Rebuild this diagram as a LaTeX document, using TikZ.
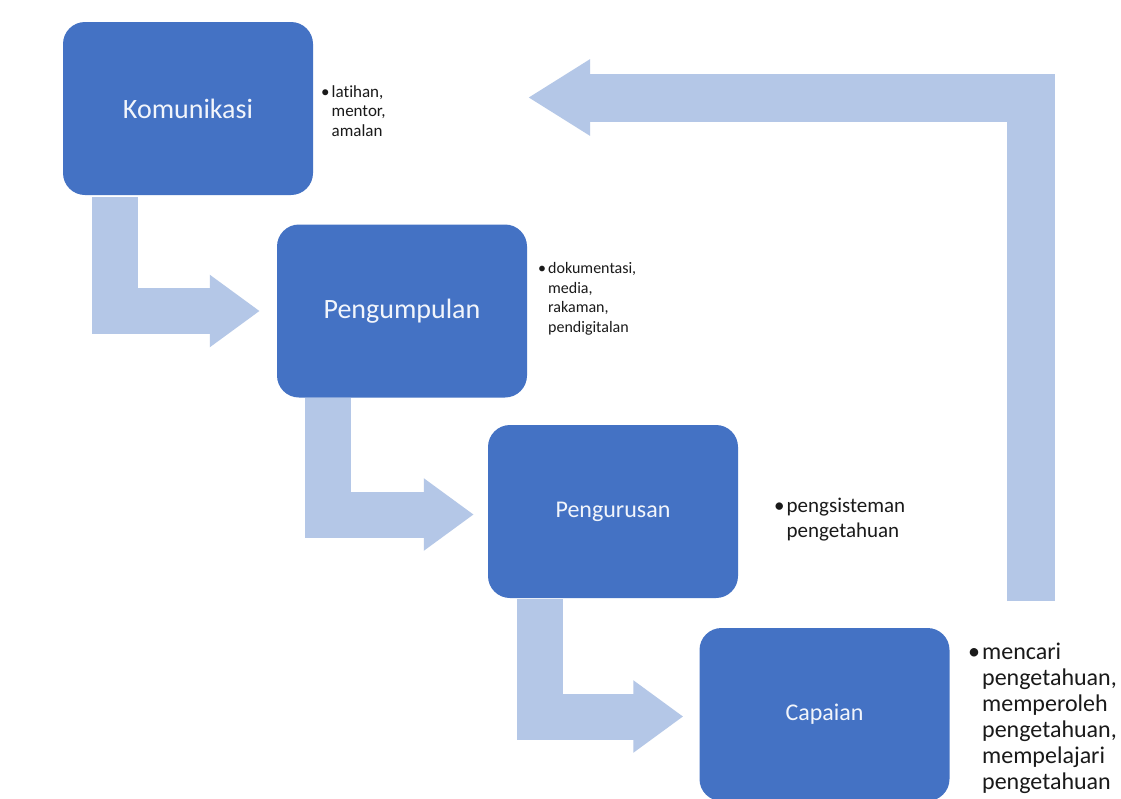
\documentclass[tikz,border=0pt]{standalone}
\usepackage{fontspec}
\setmainfont{Carlito}[Ligatures=NoCommon]
\usetikzlibrary{arrows.meta}
\definecolor{boxblue}{HTML}{4472C4}
\definecolor{arrowblue}{HTML}{B4C7E7}
\definecolor{labelwhite}{HTML}{F2F5FB}
\definecolor{bullettext}{HTML}{1A1A1A}
\tikzset{
  stage/.style={draw=none, fill=boxblue, rounded corners=22pt, minimum width=250pt,
    minimum height=173pt, inner sep=0pt, text=labelwhite},
  bendarrow/.style={draw=arrowblue, line width=#1, line join=miter, line cap=butt},
  headA/.style={-{Triangle[length=50pt,width=69pt]}},
  headB/.style={-{Triangle[length=62pt,width=72pt]}},
  notes/.style={anchor=north west, inner sep=0pt, align=left, text=bullettext},
}
\newcommand{\bul}{\textbullet\hspace{2pt}}
\newcommand{\ind}{\hphantom{\textbullet\hspace{2pt}}}
\begin{document}
\begin{tikzpicture}[x=1pt, y=-1pt]
\clip (0,0) rectangle (1121,798);
\fill[white] (0,0) rectangle (1121,798);

% stages
\node[stage, font=\fontsize{28}{30}\selectfont] (kom) at (188,108.5) {Komunikasi};
\node[stage, font=\fontsize{28}{30}\selectfont] (peng) at (402,311) {Pengumpulan};
\node[stage, font=\fontsize{24}{26}\selectfont] (urus) at (613,511.5) {Pengurusan};
\node[stage, font=\fontsize{24}{26}\selectfont] (cap) at (824.5,714.5) {Capaian};

% bent arrows
\coordinate (a1) at (115,197);
\coordinate (a2) at (328,398);
\coordinate (a3) at (540,599);
\coordinate (a4) at (1031,601);
\draw[bendarrow=46pt, headA] (a1) |- ([xshift=-17pt]peng.west);
\draw[bendarrow=46pt, headA] (a2) |- ([xshift=-14pt,yshift=-3pt]urus.west);
\draw[bendarrow=46pt, headA] (a3) |- ([xshift=-16pt,yshift=-2pt]cap.west);
\coordinate (a4end) at (528,97.5);
\draw[bendarrow=48pt, headB] (a4) |- (a4end);

% notes
\node[notes, font=\fontsize{17}{19.5}\selectfont] (n1) at (321,85)
  {\bul latihan,\\\ind mentor,\\\ind amalan};
\node[notes, font=\fontsize{16}{19.7}\selectfont] (n2) at (538,262)
  {\bul dokumentasi,\\\ind media,\\\ind rakaman,\\\ind pendigitalan};
\node[notes, font=\fontsize{21}{25}\selectfont] (n3) at (774,498)
  {\bul pengsisteman\\\ind pengetahuan};
\node[notes, font=\fontsize{24}{26}\selectfont] (n4) at (968,643)
  {\bul mencari\\\ind pengetahuan,\\\ind memperoleh\\\ind pengetahuan,\\\ind mempelajari\\\ind pengetahuan};
\end{tikzpicture}
\end{document}
